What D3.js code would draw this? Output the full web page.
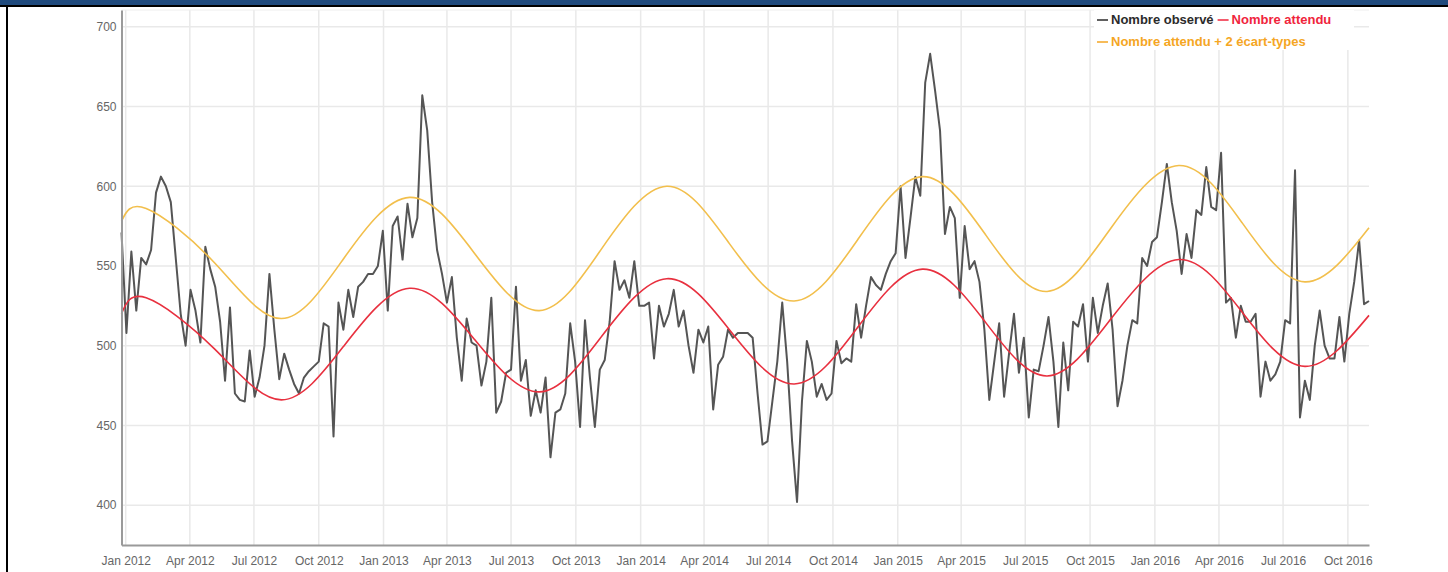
<!DOCTYPE html>
<html>
<head>
<meta charset="utf-8">
<script src="https://cdn.jsdelivr.net/npm/d3@7"></script>
<style>
  body { margin: 0; background: #fff; }
  svg { display: block; }
</style>
</head>
<body>
<script>
var canvasWidth = 1448;
var canvasHeight = 572;

// weekly observed counts, first week starting 2011-12-26
var firstWeek = '2011-12-26';
var observed = [
  571, 508, 559, 522, 555, 551, 560, 596, 606, 600,
  590, 555, 520, 500, 535, 522, 502, 562, 548, 537,
  515, 478, 524, 470, 466, 465, 497, 468, 480, 500,
  545, 510, 479, 495, 485, 476, 470, 480, 484, 487,
  490, 514, 512, 443, 527, 510, 535, 518, 537, 540,
  545, 545, 550, 572, 522, 575, 581, 554, 589, 568,
  580, 657, 635, 590, 560, 545, 527, 543, 505, 478,
  517, 502, 500, 475, 490, 530, 458, 465, 483, 485,
  537, 478, 491, 456, 472, 458, 480, 430, 458, 460,
  470, 514, 490, 449, 516, 480, 449, 485, 491, 515,
  553, 535, 541, 530, 553, 525, 525, 527, 492, 525,
  512, 520, 535, 512, 522, 500, 483, 510, 502, 512,
  460, 488, 493, 510, 505, 508, 508, 508, 505, 470,
  438, 440, 465, 490, 527, 490, 440, 402, 465, 503,
  490, 468, 476, 466, 470, 503, 489, 492, 490, 526,
  505, 525, 543, 538, 535, 545, 553, 558, 600, 555,
  580, 606, 594, 665, 683, 660, 635, 570, 587, 580,
  530, 575, 548, 553, 540, 510, 466, 490, 514, 468,
  495, 520, 483, 505, 455, 485, 484, 500, 518, 490,
  449, 502, 472, 515, 512, 526, 490, 530, 508, 525,
  539, 510, 462, 478, 500, 516, 514, 555, 550, 565,
  568, 590, 614, 590, 572, 545, 570, 555, 585, 582,
  612, 587, 585, 621, 527, 530, 505, 525, 515, 515,
  520, 468, 490, 478, 482, 490, 516, 514, 610, 455,
  478, 466, 500, 522, 500, 492, 492, 518, 490, 520,
  540, 566, 526, 528
];

// expected and expected + 2 sd, read at peaks, troughs and midpoints
var curveDates = [
  '2011-12-26', '2012-01-30', '2012-05-06', '2012-08-09', '2012-11-06',
  '2013-02-07', '2013-05-10', '2013-08-10', '2013-11-07',
  '2014-02-07', '2014-05-07', '2014-08-07', '2014-11-06',
  '2015-02-05', '2015-05-05', '2015-08-01', '2015-10-31',
  '2016-02-04', '2016-05-04', '2016-08-01', '2016-10-31'
];
var expected = [
  520, 530, 498, 466, 500,
  536, 504, 471, 506,
  542, 510, 476, 512,
  548, 515, 481, 517,
  554, 521, 487, 519
];
var expectedHigh = [
  578, 586, 552, 517, 555,
  593, 558, 522, 561,
  600, 564, 528, 567,
  606, 570, 534, 574,
  613, 577, 540, 574
];

var yTicks = [400, 450, 500, 550, 600, 650, 700];
var legendLabels = ['Nombre observé', 'Nombre attendu', 'Nombre attendu + 2 écart-types'];
var legendColors = ['#2b2b2b', '#f0243c', '#f5a623'];

var parseDate = d3.timeParse('%Y-%m-%d');
var start = parseDate(firstWeek);
var obsData = observed.map(function (v, i) {
  return { date: d3.timeDay.offset(start, 7 * i), value: v };
});
var expData = curveDates.map(function (d, i) {
  return { date: parseDate(d), value: expected[i] };
});
var highData = curveDates.map(function (d, i) {
  return { date: parseDate(d), value: expectedHigh[i] };
});

var svg = d3
  .select('body')
  .append('svg')
  .attr('width', canvasWidth)
  .attr('height', canvasHeight);

// frame: blue band on top, black rule, black left edge
svg.append('rect').attr('x', 0).attr('y', 0).attr('width', canvasWidth).attr('height', 5).attr('fill', '#1f4a7d');
svg.append('rect').attr('x', 0).attr('y', 5).attr('width', canvasWidth).attr('height', 2).attr('fill', '#000');
svg.append('rect').attr('x', 6).attr('y', 5).attr('width', 2).attr('height', canvasHeight).attr('fill', '#000');

var plotLeft = 121.5, plotRight = 1369, plotTop = 10, plotBottom = 545;

var xScale = d3
  .scaleTime()
  .domain([obsData[0].date, obsData[obsData.length - 1].date])
  .range([plotLeft, plotRight]);
var yScale = d3.scaleLinear().domain([375, 710.5]).range([plotBottom, plotTop]);

var xTicks = xScale.ticks(d3.timeMonth.every(3));

// grid
svg.append('g')
  .selectAll('line')
  .data(yTicks)
  .enter()
  .append('line')
  .attr('x1', plotLeft)
  .attr('x2', plotRight)
  .attr('y1', function (d) { return yScale(d); })
  .attr('y2', function (d) { return yScale(d); })
  .attr('stroke', '#e9e9e9')
  .attr('stroke-width', 1.5);

svg.append('g')
  .selectAll('line')
  .data(xTicks)
  .enter()
  .append('line')
  .attr('x1', function (d) { return xScale(d); })
  .attr('x2', function (d) { return xScale(d); })
  .attr('y1', plotTop)
  .attr('y2', plotBottom)
  .attr('stroke', '#e9e9e9')
  .attr('stroke-width', 1.5);

svg.append('line')
  .attr('x1', plotLeft).attr('x2', plotRight)
  .attr('y1', plotTop).attr('y2', plotTop)
  .attr('stroke', '#eeeeee');

// lines
var line = d3.line()
  .x(function (d) { return xScale(d.date); })
  .y(function (d) { return yScale(d.value); });
var smooth = d3.line()
  .curve(d3.curveNatural)
  .x(function (d) { return xScale(d.date); })
  .y(function (d) { return yScale(d.value); });

svg.append('path')
  .datum(obsData)
  .attr('fill', 'none')
  .attr('stroke', '#555555')
  .attr('stroke-width', 2)
  .attr('stroke-linejoin', 'round')
  .attr('d', line);

svg.append('path')
  .datum(highData)
  .attr('fill', 'none')
  .attr('stroke', '#f2bf4c')
  .attr('stroke-width', 1.6)
  .attr('d', smooth);

svg.append('path')
  .datum(expData)
  .attr('fill', 'none')
  .attr('stroke', '#e8303f')
  .attr('stroke-width', 1.6)
  .attr('d', smooth);

// axes
var yAxis = svg.append('g')
  .attr('transform', 'translate(' + plotLeft + ',0)')
  .call(d3.axisLeft(yScale).tickValues(yTicks).tickSize(0).tickPadding(5));
yAxis.select('.domain').attr('stroke', '#9a9a9a').attr('stroke-width', 2);

var xAxis = svg.append('g')
  .attr('transform', 'translate(0,' + plotBottom + ')')
  .call(
    d3.axisBottom(xScale)
      .tickValues(xTicks)
      .tickSize(0)
      .tickPadding(11)
      .tickFormat(d3.timeFormat('%b %Y'))
  );
xAxis.select('.domain').attr('stroke', '#9a9a9a').attr('stroke-width', 2);

svg.selectAll('.tick text')
  .attr('font-family', '"Liberation Sans", Arial, sans-serif')
  .attr('font-size', '12px')
  .attr('fill', '#666');

// legend
var legend = svg.append('g').attr('font-family', '"Liberation Sans", Arial, sans-serif')
  .attr('font-size', '13px').attr('font-weight', 'bold');
legend.append('rect')
  .attr('x', 1094).attr('y', 10).attr('width', 260).attr('height', 40)
  .attr('fill', '#fff');

function legendItem(x, y, i) {
  legend.append('line')
    .attr('x1', x).attr('x2', x + 11)
    .attr('y1', y - 4).attr('y2', y - 4)
    .attr('stroke', legendColors[i]).attr('stroke-width', 1.5);
  var t = legend.append('text')
    .attr('x', x + 14).attr('y', y)
    .attr('fill', legendColors[i])
    .text(legendLabels[i]);
  return x + 14 + t.node().getComputedTextLength();
}

var nx = legendItem(1097, 24, 0);
legendItem(nx + 4, 24, 1);
legendItem(1097, 46, 2);
</script>
</body>
</html>
